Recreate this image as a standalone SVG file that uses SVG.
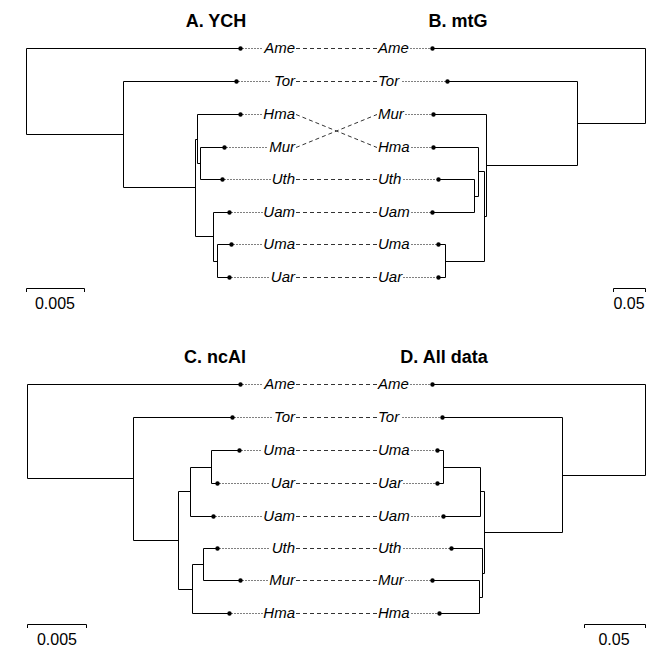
<svg xmlns="http://www.w3.org/2000/svg" width="672" height="672" viewBox="0 0 672 672">
<style>
.br{fill:none;stroke:#000;stroke-width:1}
.dt{fill:none;stroke:#000;stroke-width:1;stroke-dasharray:1,2}
.lk{fill:none;stroke:#333;stroke-width:1;stroke-dasharray:4,3}
.tip{fill:#000}
.lab{font-family:"Liberation Sans",Arial,sans-serif;font-style:italic;font-size:15px;fill:#000}
.le{text-anchor:end}
.ttl{font-family:"Liberation Sans",Arial,sans-serif;font-weight:bold;font-size:18px;text-anchor:middle;fill:#000}
.sc{font-family:"Liberation Sans",Arial,sans-serif;font-size:16px;text-anchor:middle;fill:#000}
</style>
<rect width="672" height="672" fill="#fff"/>

<g id="titles">
<text class="ttl" x="216" y="27">A. YCH</text>
<text class="ttl" x="458" y="27">B. mtG</text>
<text class="ttl" x="215" y="363">C. ncAl</text>
<text class="ttl" x="444" y="363">D. All data</text>
</g>

<!-- Tree A -->
<g id="treeA" transform="translate(0.5,0.5)">
<path class="br" d="M26,48V134 M26,48H240 M26,134H123 M123,81V187 M123,81H236 M123,187H195 M195,139V236 M195,139H197 M197,114V163 M197,114H240 M197,163H200 M200,147V179 M200,147H224 M200,179H222 M195,236H213 M213,212V261 M213,212H229 M213,261H217 M217,244V277 M217,244H231 M217,277H229"/>
<g class="tip">
<circle cx="240" cy="48" r="2.2"/><circle cx="236" cy="81" r="2.2"/><circle cx="240" cy="114" r="2.2"/><circle cx="224" cy="147" r="2.2"/><circle cx="222" cy="179" r="2.2"/><circle cx="229" cy="212" r="2.2"/><circle cx="231" cy="244" r="2.2"/><circle cx="229" cy="277" r="2.2"/>
</g>
<path class="dt" d="M242,48H263 M238,81H271 M242,114H262 M226,147H268 M224,179H270 M231,212H262 M233,244H262 M231,277H269"/>
</g>
<g id="labelsA" class="lab le">
<text x="295" y="53">Ame</text><text x="295" y="86">Tor</text><text x="295" y="119">Hma</text><text x="295" y="152">Mur</text><text x="295" y="184">Uth</text><text x="295" y="217">Uam</text><text x="295" y="249">Uma</text><text x="295" y="282">Uar</text>
</g>

<!-- Tree B -->
<g id="treeB" transform="translate(0.5,0.5)">
<path class="br" d="M645,48V123 M432,48H645 M577,123H645 M577,81V165 M447,81H577 M486,165H577 M486,114V216 M433,114H486 M484,216H486 M484,171V261 M478,171H484 M478,147V196 M433,147H478 M474,196H478 M474,179V212 M438,179H474 M432,212H474 M445,261H484 M445,244V277 M438,244H445 M438,277H445"/>
<g class="tip">
<circle cx="432" cy="48" r="2.2"/><circle cx="447" cy="81" r="2.2"/><circle cx="433" cy="114" r="2.2"/><circle cx="433" cy="147" r="2.2"/><circle cx="438" cy="179" r="2.2"/><circle cx="432" cy="212" r="2.2"/><circle cx="438" cy="244" r="2.2"/><circle cx="438" cy="277" r="2.2"/>
</g>
<path class="dt" d="M410,48H430 M402,81H445 M405,114H431 M411,147H431 M403,179H436 M411,212H430 M411,244H436 M403,277H436"/>
</g>
<g id="labelsB" class="lab">
<text x="378" y="53">Ame</text><text x="378" y="86">Tor</text><text x="378" y="119">Mur</text><text x="378" y="152">Hma</text><text x="378" y="184">Uth</text><text x="378" y="217">Uam</text><text x="378" y="249">Uma</text><text x="378" y="282">Uar</text>
</g>

<!-- links top -->
<g id="linksTop" transform="translate(0,0.5)">
<path class="lk" d="M296,48H377 M296,81H377 M296,114L377,147 M296,147L377,114 M296,179H377 M296,212H377 M296,244H377 M296,277H377"/>
</g>

<!-- scale bars top -->
<g id="scaleA">
<path class="br" d="M26.5,292V288.5H84.5V292"/>
<text class="sc" x="55" y="309">0.005</text>
</g>
<g id="scaleB">
<path class="br" d="M613.5,292V288.5H645.5V292"/>
<text class="sc" x="629" y="309">0.05</text>
</g>

<!-- Tree C -->
<g id="treeC" transform="translate(0.5,0.5)">
<path class="br" d="M27,384V478 M27,384H240 M27,478H133 M133,417V540 M133,417H232 M133,540H178 M178,491V589 M178,491H190 M190,467V516 M190,516H213 M190,467H211 M211,450V483 M211,450H239 M211,483H217 M178,589H192 M192,564V613 M192,613H229 M192,564H203 M203,548V580 M203,548H217 M203,580H240"/>
<g class="tip">
<circle cx="240" cy="384" r="2.2"/><circle cx="232" cy="417" r="2.2"/><circle cx="239" cy="450" r="2.2"/><circle cx="217" cy="483" r="2.2"/><circle cx="213" cy="516" r="2.2"/><circle cx="217" cy="548" r="2.2"/><circle cx="240" cy="580" r="2.2"/><circle cx="229" cy="613" r="2.2"/>
</g>
<path class="dt" d="M242,384H263 M234,417H271 M241,450H262 M219,483H269 M215,516H262 M219,548H270 M242,580H268 M231,613H262"/>
</g>
<g id="labelsC" class="lab le">
<text x="295" y="389">Ame</text><text x="295" y="422">Tor</text><text x="295" y="455">Uma</text><text x="295" y="488">Uar</text><text x="295" y="521">Uam</text><text x="295" y="553">Uth</text><text x="295" y="585">Mur</text><text x="295" y="618">Hma</text>
</g>

<!-- Tree D -->
<g id="treeD" transform="translate(0.5,0.5)">
<path class="br" d="M645,384V475 M432,384H645 M562,475H645 M562,417V532 M442,417H562 M484,532H562 M484,491V573 M480,491H484 M480,467V516 M443,516H480 M443,467H480 M443,450V483 M437,450H443 M437,483H443 M482,573H484 M482,548V597 M451,548H482 M479,597H482 M479,580V613 M432,580H479 M439,613H479"/>
<g class="tip">
<circle cx="432" cy="384" r="2.2"/><circle cx="442" cy="417" r="2.2"/><circle cx="437" cy="450" r="2.2"/><circle cx="437" cy="483" r="2.2"/><circle cx="443" cy="516" r="2.2"/><circle cx="451" cy="548" r="2.2"/><circle cx="432" cy="580" r="2.2"/><circle cx="439" cy="613" r="2.2"/>
</g>
<path class="dt" d="M410,384H430 M402,417H440 M411,450H435 M403,483H435 M411,516H441 M403,548H449 M405,580H430 M411,613H437"/>
</g>
<g id="labelsD" class="lab">
<text x="378" y="389">Ame</text><text x="378" y="422">Tor</text><text x="378" y="455">Uma</text><text x="378" y="488">Uar</text><text x="378" y="521">Uam</text><text x="378" y="553">Uth</text><text x="378" y="585">Mur</text><text x="378" y="618">Hma</text>
</g>

<!-- links bottom -->
<g id="linksBottom" transform="translate(0,0.5)">
<path class="lk" d="M296,384H377 M296,417H377 M296,450H377 M296,483H377 M296,516H377 M296,548H377 M296,580H377 M296,613H377"/>
</g>

<!-- scale bars bottom -->
<g id="scaleC">
<path class="br" d="M27.5,628V624.5H86.5V628"/>
<text class="sc" x="57" y="645">0.005</text>
</g>
<g id="scaleD">
<path class="br" d="M584.5,628V624.5H645.5V628"/>
<text class="sc" x="614" y="645">0.05</text>
</g>
</svg>
